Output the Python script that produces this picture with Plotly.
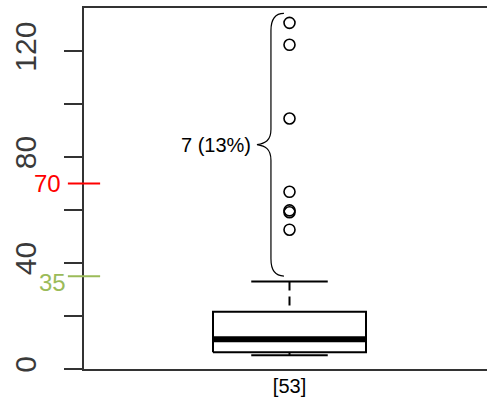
import plotly.graph_objects as go

# ---- data ----
group_label = ["[53]"]
group_pos = [1]
lower_whisker = [5.2]
q1 = [6.3]
median = [11.2]
q3 = [21.6]
upper_whisker = [33.0]
outliers = [130.7, 122.4, 94.6, 66.9, 59.9, 59.2, 52.6]
n_total = 53
ref_values = [70, 35]
ref_colors = ["#FF0000", "#9BBB59"]
ytick_vals = [0, 20, 40, 60, 80, 100, 120]
ytick_text = ["0", "", "40", "", "80", "", "120"]

# annotation (brace) extent in data units
brace_lo, brace_hi = 35.1, 134.3
brace_x, brace_end_x, brace_tip_x = 0.903, 0.971, 0.83

FONT = "Liberation Sans, Arial, sans-serif"
half_w = 0.4
cap_w = 0.2

fig = go.Figure()
x0 = group_pos[0]
# box body
fig.add_trace(go.Scatter(
    x=[x0 - half_w, x0 + half_w, x0 + half_w, x0 - half_w, x0 - half_w],
    y=[q1[0], q1[0], q3[0], q3[0], q1[0]],
    mode="lines", fill="toself", fillcolor="white",
    line=dict(color="black", width=2), hoverinfo="skip", showlegend=False))
# median
fig.add_trace(go.Scatter(x=[x0 - half_w, x0 + half_w], y=[median[0], median[0]],
    mode="lines", line=dict(color="black", width=6), showlegend=False))
# whiskers (dashed)
fig.add_trace(go.Scatter(x=[x0, x0], y=[upper_whisker[0], q3[0]], mode="lines",
    line=dict(color="black", width=2, dash="9px,6px"), showlegend=False))
fig.add_trace(go.Scatter(x=[x0, x0], y=[lower_whisker[0], q1[0]], mode="lines",
    line=dict(color="black", width=2), showlegend=False))
# caps
for v in (upper_whisker[0], lower_whisker[0]):
    fig.add_trace(go.Scatter(x=[x0 - cap_w, x0 + cap_w], y=[v, v], mode="lines",
        line=dict(color="black", width=2), showlegend=False))
# outliers
fig.add_trace(go.Scatter(x=[x0] * len(outliers), y=outliers, mode="markers",
    marker=dict(symbol="circle-open", size=11, color="black", line=dict(width=1.6)),
    showlegend=False))

# brace
mid = (brace_lo + brace_hi) / 2
r = 6.5
path = (f"M {brace_end_x},{brace_hi} Q {brace_x},{brace_hi} {brace_x},{brace_hi - r} "
        f"L {brace_x},{mid + r * 0.9} C {brace_x},{mid + 1.5} {brace_x - 0.03},{mid + 0.5} {brace_tip_x},{mid} "
        f"C {brace_x - 0.03},{mid - 0.5} {brace_x},{mid - 1.5} {brace_x},{mid - r * 0.9} "
        f"L {brace_x},{brace_lo + r} Q {brace_x},{brace_lo} {brace_end_x},{brace_lo}")
fig.add_shape(type="path", path=path, xref="x", yref="y", line=dict(color="black", width=1.2))
pct = round(100 * len(outliers) / n_total)
fig.add_annotation(x=brace_tip_x, y=mid, xref="x", yref="y", xanchor="right", xshift=-4,
    text=f"{len(outliers)} ({pct}%)", showarrow=False, font=dict(family=FONT, size=20, color="black"))

# reference ticks on y axis
for v, c in zip(ref_values, ref_colors):
    fig.add_shape(type="line", xref="paper", yref="y", x0=-0.04, x1=0.04, y0=v, y1=v,
                  line=dict(color=c, width=2))
fig.add_annotation(x=-0.052, y=ref_values[0], xref="paper", yref="y", xanchor="right",
    text=str(ref_values[0]), showarrow=False, font=dict(family=FONT, size=24, color=ref_colors[0]))
fig.add_annotation(x=-0.039, y=ref_values[1], xref="paper", yref="y", xanchor="right", yshift=-6,
    text=str(ref_values[1]), showarrow=False, font=dict(family=FONT, size=24, color=ref_colors[1]))

fig.update_layout(
    width=487, height=398,
    margin=dict(l=84, r=0, t=8, b=29),
    paper_bgcolor="white", plot_bgcolor="white",
    showlegend=False,
    xaxis=dict(range=[-0.0745, 2.0327], tickvals=group_pos, ticktext=group_label,
               ticks="", showgrid=False, zeroline=False, showline=True, mirror=True,
               linecolor="#333333", linewidth=2, ticklabelstandoff=-2,
               tickfont=dict(family=FONT, size=20, color="black")),
    yaxis=dict(range=[0, 136.3], tickvals=ytick_vals, ticktext=ytick_text,
               ticks="outside", ticklen=18, tickwidth=2, tickcolor="#333333",
               tickangle=-90, ticklabelstandoff=16,
               showgrid=False, zeroline=False, showline=True, linecolor="#333333", linewidth=2,
               tickfont=dict(family=FONT, size=30, color="#3a3a3a")),
)
fig.write_html("out.html", config={"displayModeBar": False},
               post_script="document.body.style.margin='0';document.body.style.padding='0';document.body.style.overflow='hidden';")
